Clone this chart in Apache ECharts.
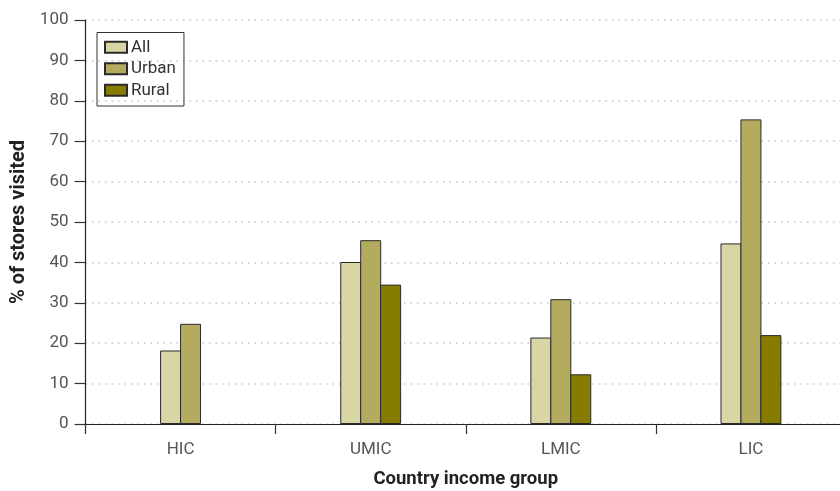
<!DOCTYPE html>
<html><head><meta charset="utf-8">
<script src="https://cdn.jsdelivr.net/npm/echarts@6/dist/echarts.min.js"></script>
<style>html,body{margin:0;padding:0;background:#fff}#c{width:840px;height:491px}</style>
</head><body><div id="c"></div>
<script>
const categories = ['HIC', 'UMIC', 'LMIC', 'LIC'];
const allValues = [18.2, 40.1, 21.4, 44.7];
const urbanValues = [24.8, 45.5, 30.9, 75.4];
const ruralValues = [null, 34.5, 12.3, 22.0];
const yTicks = [0, 10, 20, 30, 40, 50, 60, 70, 80, 90, 100];

const colors = { All: '#d9d5a4', Urban: '#b3ac5e', Rural: '#857c00' };
const font = 'Roboto, "Open Sans", sans-serif';

// HIC has no rural value: draw its two bars on a twin axis so they are centred.
function mainData(arr) { return arr.map((v, i) => (i === 0 ? null : v)); }
function hicData(arr) { return arr.map((v, i) => (i === 0 ? v : null)); }

const itemStyle = (name) => ({ color: colors[name], borderColor: '#2a2a2a', borderWidth: 1 });
const barBase = { type: 'bar', barWidth: 21, barGap: '-5%' };

const chart = echarts.init(document.getElementById('c'), null, { renderer: 'canvas' });
chart.setOption({
  animation: false,
  grid: { left: 85.5, top: 20, right: -6, height: 404, containLabel: false, outerBoundsMode: 'none' },
  legend: {
    orient: 'vertical', left: 97, top: 32.5,
    data: ['All', 'Urban', 'Rural'],
    icon: 'rect',
    itemWidth: 22, itemHeight: 11, itemGap: 0,
    borderColor: '#333', borderWidth: 1, padding: [4, 8, 5, 7],
    textStyle: { fontFamily: font, fontSize: 17, color: '#333', lineHeight: 21.5, padding: [0, 0, 0, -1] },
    selectedMode: false
  },
  xAxis: [{
    type: 'category', data: categories,
    axisLine: { lineStyle: { color: '#222', width: 1.2 } },
    axisTick: { show: true, length: 10, lineStyle: { color: '#333', width: 1.2 } },
    axisLabel: { fontFamily: font, fontSize: 17, color: '#555', margin: 17 },
    name: 'Country income group', nameLocation: 'middle', nameGap: 46,
    nameTextStyle: { fontFamily: font, fontSize: 18.5, fontWeight: 'bold', color: '#222' }
  }, {
    type: 'category', data: categories, show: false, position: 'bottom'
  }],
  yAxis: {
    type: 'value', min: 0, max: 100, interval: 10,
    axisLine: { show: true, lineStyle: { color: '#222', width: 1.2 } },
    axisTick: { show: true, length: 11, lineStyle: { color: '#333', width: 1.2 } },
    axisLabel: { fontFamily: font, fontSize: 17, color: '#555', margin: 17,
      formatter: (v) => (yTicks.includes(v) ? String(v) : '') },
    splitLine: { show: true, lineStyle: { color: '#c4c4c4', type: [1.5, 5], width: 1.5 } },
    name: '% of stores visited', nameLocation: 'middle', nameGap: 54, nameRotate: 90,
    nameTextStyle: { fontFamily: font, fontSize: 20, fontWeight: 'bold', color: '#222' }
  },
  series: [
    Object.assign({ name: 'All', xAxisIndex: 0, data: mainData(allValues), itemStyle: itemStyle('All') }, barBase),
    Object.assign({ name: 'Urban', xAxisIndex: 0, data: mainData(urbanValues), itemStyle: itemStyle('Urban') }, barBase),
    Object.assign({ name: 'Rural', xAxisIndex: 0, data: mainData(ruralValues), itemStyle: itemStyle('Rural') }, barBase),
    Object.assign({ name: 'All', xAxisIndex: 1, data: hicData(allValues), itemStyle: itemStyle('All') }, barBase),
    Object.assign({ name: 'Urban', xAxisIndex: 1, data: hicData(urbanValues), itemStyle: itemStyle('Urban') }, barBase)
  ]
});
</script></body></html>
